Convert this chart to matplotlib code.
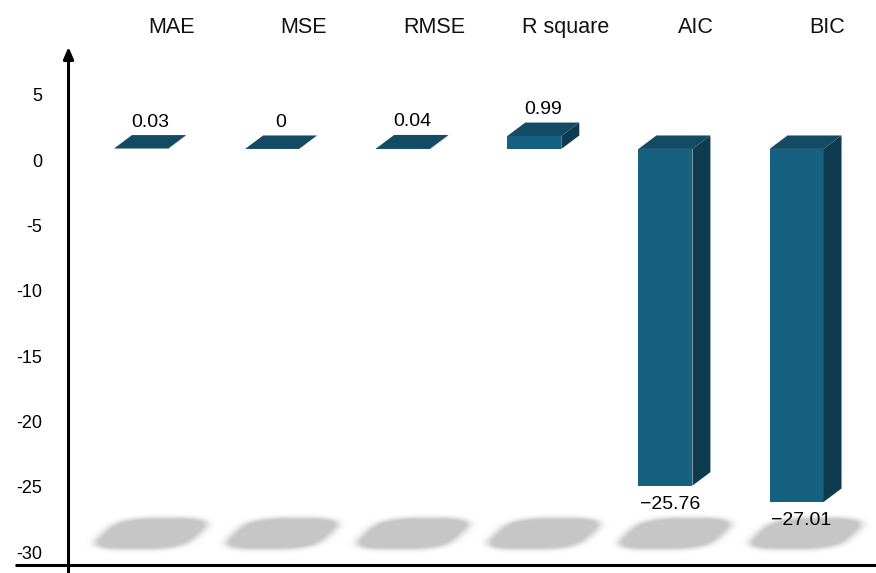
import numpy as np
import matplotlib
matplotlib.use("Agg")
import matplotlib.pyplot as plt

categories = ["MAE", "MSE", "RMSE", "R square", "AIC", "BIC"]
values = [0.03, 0, 0.04, 0.99, -25.76, -27.01]
value_labels = ["0.03", "0", "0.04", "0.99", "\u221225.76", "\u221227.01"]
yticks = [5, 0, -5, -10, -15, -20, -25, -30]
ytick_labels = ["5", "0", "-5", "-10", "-15", "-20", "-25", "-30"]

# pseudo-3D bar geometry (data units)
floor = 0.865
bar_w = 0.412
depth_x = 0.137
depth_y = 1.03

front_col = "#176180"
top_col = "#134b64"
side_col = "#0e3b4f"


def blur_1d(arr, sigma, axis):
    r = int(3 * sigma)
    k = np.exp(-0.5 * (np.arange(-r, r + 1) / sigma) ** 2)
    k /= k.sum()
    return np.apply_along_axis(lambda m: np.convolve(m, k, mode="same"), axis, arr)


def shadow_layer(xs, x_lo, x_hi, y_lo, y_hi):
    # soft slanted shadows under each bar slot (sheared superellipses)
    nx, ny = 876, 120
    gx = np.linspace(x_lo, x_hi, nx)
    gy = np.linspace(y_lo, y_hi, ny)
    X, Y = np.meshgrid(gx, gy)
    mask = np.zeros_like(X)
    cy, b = -28.6, 1.2
    a, shear = 0.37, 0.105
    for x in xs:
        u = (X - (x + 0.075) - shear * (Y - cy)) / a
        w = (Y - cy) / b
        mask[(np.abs(u) ** 3 + np.abs(w) ** 4) <= 1] = 1.0
    mask = blur_1d(mask, 4.5, 1)
    mask = blur_1d(mask, 3, 0)
    mask = np.clip(mask * 1.25, 0, 1)
    rgba = np.zeros((ny, nx, 4))
    rgba[..., :3] = 0.78
    rgba[..., 3] = mask
    return rgba


fig = plt.figure(figsize=(8.76, 5.73), dpi=100)
ax = fig.add_axes([0, 0, 1, 1])
x_lo, x_hi = -1.0755, 5.606
y_lo, y_hi = -31.58, 12.26

xs = np.arange(len(categories))

img = shadow_layer(xs, x_lo, x_hi, -31.58, -25.0)
ax.imshow(img, extent=(x_lo, x_hi, -31.58, -25.0), origin="lower",
          aspect="auto", interpolation="bilinear", zorder=1)

# front faces
ax.bar(xs, values, bottom=floor, width=bar_w, color=front_col,
       linewidth=0, zorder=3)

for x, v in zip(xs, values):
    x0, x1 = x - bar_w / 2, x + bar_w / 2
    top = floor + max(v, 0)
    bot = floor + min(v, 0)
    ax.fill([x1, x1 + depth_x, x1 + depth_x, x1],
            [bot, bot + depth_y, top + depth_y, top],
            color=side_col, linewidth=0, zorder=3)
    ax.fill([x0, x1, x1 + depth_x, x0 + depth_x],
            [top, top, top + depth_y, top + depth_y],
            color=top_col, linewidth=0, zorder=3)

# value labels
for x, v, lab in zip(xs, values, value_labels):
    if v >= 0:
        ax.text(x + depth_x / 2, floor + v + depth_y + 0.65, lab,
                ha="center", va="baseline", fontsize=14,
                family="Liberation Sans", color="black", zorder=5)
    else:
        ax.text(x + depth_x / 4, floor + v - 1.8, lab,
                ha="center", va="baseline", fontsize=14,
                family="Liberation Sans", color="black", zorder=5)

# category names along the top
for x, c in zip(xs, categories):
    ax.text(x + 0.236, 10.12, c, ha="center", va="center", fontsize=15.5,
            family="Liberation Sans", color="#111111")

# axes lines
y_axis_x = -0.553
ax.annotate("", xy=(y_axis_x, 8.67), xytext=(y_axis_x, y_lo),
            arrowprops=dict(arrowstyle="-|>,head_length=0.7,head_width=0.3",
                            color="black", lw=2.2, shrinkA=0, shrinkB=0),
            zorder=4)
ax.plot([-0.961, x_hi], [-30.96, -30.96], color="black", lw=2.2, zorder=4,
        solid_capstyle="butt")

ax.set_xlim(x_lo, x_hi)
ax.set_ylim(y_lo, y_hi)
ax.spines["left"].set_position(("data", y_axis_x))
ax.set_yticks(yticks)
ax.set_yticklabels(ytick_labels)
ax.tick_params(axis="y", length=0, pad=19, labelsize=13,
               labelfontfamily="Liberation Sans")
ax.set_xticks([])
for s in ["left", "right", "top", "bottom"]:
    ax.spines[s].set_visible(False)

fig.savefig("out.png", dpi=100)
